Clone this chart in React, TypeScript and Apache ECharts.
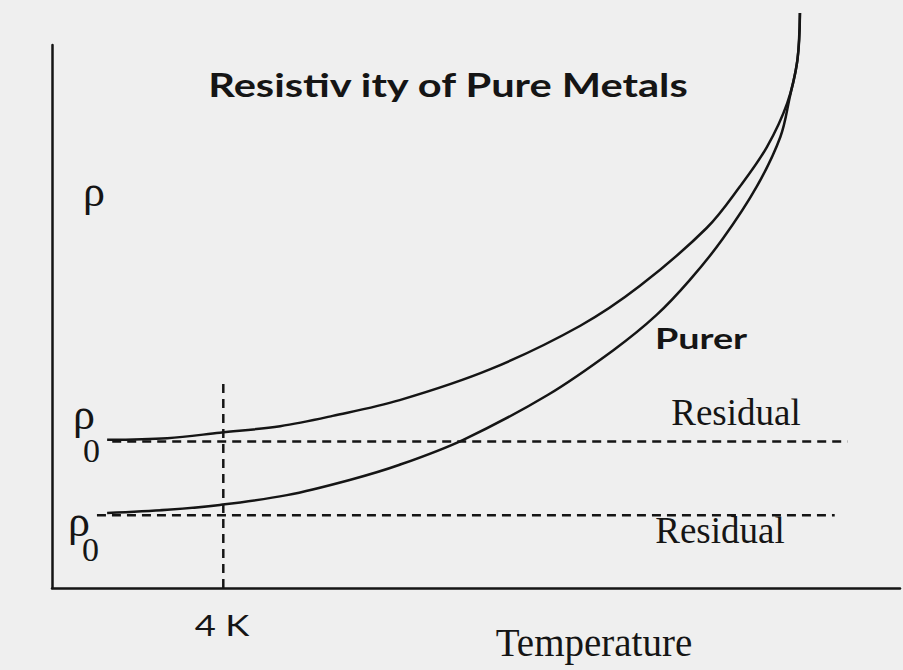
import React, { useEffect, useRef } from "react";
import * as echarts from "echarts";

// Temperature (arbitrary units along the axis, 0-100) and resistivity (arbitrary units, 0-100)
const upperTemp = [6.5, 13.6, 19.8, 26.9, 33.1, 41.0, 51.7, 62.3, 69.3, 77.2, 81.1, 84.3, 86.7, 87.9, 88.2];
const upperRho = [27.3, 27.6, 28.6, 29.8, 31.7, 34.6, 40.3, 48.3, 55.6, 66.3, 73.9, 81.2, 89.3, 97.2, 105.9];
const lowerTemp = [6.5, 13.6, 19.8, 27.7, 35.1, 41.0, 48.5, 58.4, 66.2, 71.3, 75.2, 79.1, 83.1, 85.9, 87.0, 87.9, 88.2];
const lowerRho = [13.8, 14.4, 15.3, 17.1, 19.9, 22.7, 27.3, 35.5, 43.8, 50.3, 56.7, 64.3, 73.9, 83.1, 90.4, 97.2, 105.9];

const residualHigh = 27.0;
const residualHighRange = [7.1, 93.8];
const residualLow = 13.4;
const residualLowRange = [5.3, 92.3];
const fourK = 20.2;
const fourKRange = [0, 37.8];

const titleText = "Resistiv ity of Pure Metals";
const xLabel = "Temperature";
const yLabel = "ρ";
const tickLabel = "4 K";
const curveLabel = "Purer";
const residualLabel = "Residual";

const INK = "#151515";

export default function App() {
  const ref = useRef<HTMLDivElement>(null);
  useEffect(() => {
    if (!ref.current) return;
    const chart = echarts.init(ref.current, undefined, { renderer: "svg" });
    const pairs = (xs: number[], ys: number[]) => xs.map((x, i) => [x, ys[i]]);
    const dash = [9, 6];
    const serif = "'Liberation Serif', 'Times New Roman', serif";
    const sans = "Lato, 'Open Sans', sans-serif";
    const rhoZero = (x: number, y: number, lh: number, shift: number) => ({
      type: "text",
      x,
      y,
      style: {
        text: `{r|${yLabel}}\n{z|0}`,
        align: "center",
        verticalAlign: "middle",
        fill: INK,
        rich: {
          r: { fontFamily: serif, fontSize: 44, lineHeight: lh, fill: INK },
          z: { fontFamily: serif, fontSize: 34, lineHeight: lh, fill: INK, padding: [0, 0, 0, shift] },
        },
      },
    });
    chart.setOption({
      animation: false,
      backgroundColor: "#efefef",
      grid: { left: 52, right: 3, top: 45, bottom: 82 },
      xAxis: {
        type: "value",
        min: 0,
        max: 100,
        axisLine: { show: true, lineStyle: { color: INK, width: 2.5 } },
        axisTick: { show: false },
        axisLabel: { show: false },
        splitLine: { show: false },
      },
      yAxis: {
        type: "value",
        min: 0,
        max: 100,
        axisLine: { show: true, lineStyle: { color: INK, width: 2.5 } },
        axisTick: { show: false },
        axisLabel: { show: false },
        splitLine: { show: false },
      },
      series: [
        {
          type: "line",
          name: "Less pure",
          data: pairs(upperTemp, upperRho),
          smooth: 0.35,
          symbol: "none",
          clip: false,
          lineStyle: { color: INK, width: 2.5 },
        },
        {
          type: "line",
          name: "Purer",
          data: pairs(lowerTemp, lowerRho),
          smooth: 0.35,
          symbol: "none",
          clip: false,
          lineStyle: { color: INK, width: 2.5 },
        },
        {
          type: "line",
          name: "Residual high",
          data: residualHighRange.map((x) => [x, residualHigh]),
          symbol: "none",
          lineStyle: { color: INK, width: 2.5, type: dash },
        },
        {
          type: "line",
          name: "Residual low",
          data: residualLowRange.map((x) => [x, residualLow]),
          symbol: "none",
          lineStyle: { color: INK, width: 2.5, type: dash },
        },
        {
          type: "line",
          name: "4 K",
          data: fourKRange.map((y) => [fourK, y]),
          symbol: "none",
          lineStyle: { color: INK, width: 2.5, type: dash },
        },
      ],
      graphic: [
        {
          type: "text",
          x: 448,
          y: 84,
          scaleX: 1.3,
          style: {
            text: titleText,
            font: `700 32px ${sans}`,
            fill: INK,
            align: "center",
            verticalAlign: "middle",
          },
        },
        {
          type: "text",
          x: 94,
          y: 191,
          style: { text: yLabel, font: `44px ${serif}`, fill: INK, align: "center", verticalAlign: "middle" },
        },
        rhoZero(84, 432, 36, 15),
        rhoZero(79, 535, 28, 23),
        {
          type: "text",
          x: 701,
          y: 338,
          scaleX: 1.3,
          style: { text: curveLabel, font: `700 29px ${sans}`, fill: INK, align: "center", verticalAlign: "middle" },
        },
        {
          type: "text",
          x: 736,
          y: 412,
          style: { text: residualLabel, font: `37px ${serif}`, fill: INK, align: "center", verticalAlign: "middle" },
        },
        {
          type: "text",
          x: 720,
          y: 530,
          style: { text: residualLabel, font: `37px ${serif}`, fill: INK, align: "center", verticalAlign: "middle" },
        },
        {
          type: "text",
          x: 222,
          y: 625,
          scaleX: 1.3,
          style: { text: tickLabel, font: `28px ${sans}`, fill: INK, align: "center", verticalAlign: "middle" },
        },
        {
          type: "text",
          x: 594,
          y: 642,
          style: { text: xLabel, font: `39px ${serif}`, fill: INK, align: "center", verticalAlign: "middle" },
        },
      ],
    });
    return () => chart.dispose();
  }, []);
  return (
    <div
      ref={ref}
      style={{ position: "fixed", left: 0, top: 0, width: 903, height: 670 }}
    />
  );
}
